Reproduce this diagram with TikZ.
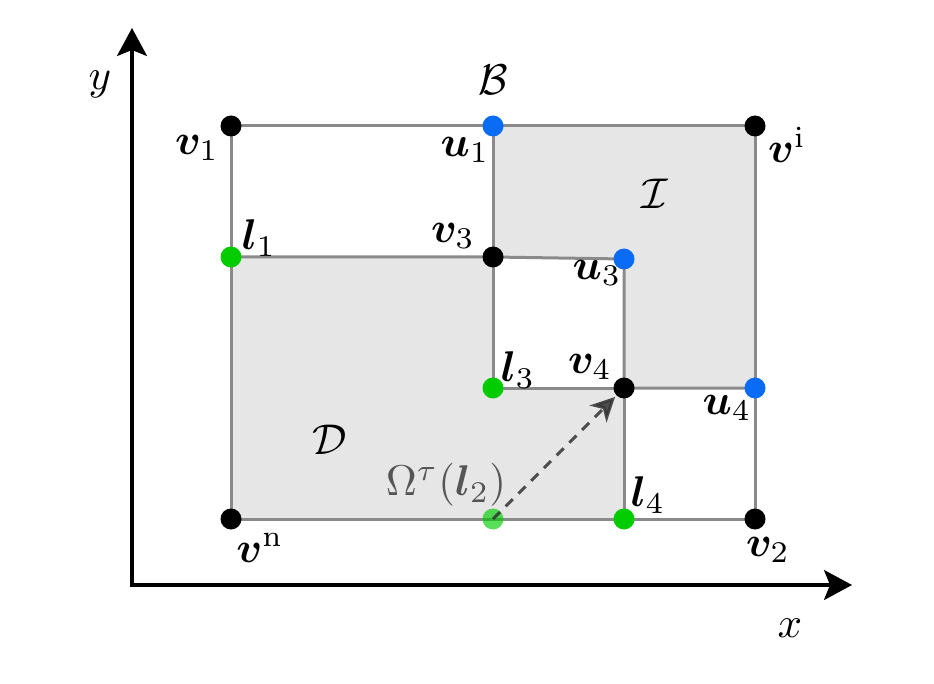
\documentclass[tikz,border=0pt]{standalone}
\usepackage{amsmath,bm}
\usetikzlibrary{arrows.meta}
\definecolor{edgegray}{HTML}{8A8A8A}
\definecolor{fillgray}{HTML}{E6E6E6}
\definecolor{dotgreen}{HTML}{00CC00}
\definecolor{dotblue}{HTML}{0A6CF5}
\definecolor{arrowgray}{HTML}{333333}
\definecolor{textgray}{HTML}{555555}
\begin{document}
\begin{tikzpicture}[x=1pt,y=-1pt,
  font=\fontsize{10}{12}\selectfont,
  edge/.style={draw=edgegray, line width=3pt},
  region/.style={fill=fillgray},
  dot/.style={circle, inner sep=0pt, minimum size=21pt},
  blackdot/.style={dot, fill=black},
  greendot/.style={dot, fill=dotgreen},
  bluedot/.style={dot, fill=dotblue},
  lab/.style={inner sep=0pt, scale=4.3},
  axis/.style={line width=3.2pt, -{Stealth[length=28pt,width=30pt,inset=6pt]}}]
\useasboundingbox (0,0) rectangle (934,684);

% coordinates
\coordinate (v1) at (231,126);
\coordinate (u1) at (493,126);
\coordinate (vi) at (755,126);
\coordinate (l1) at (231,257);
\coordinate (v3) at (493,257);
\coordinate (u3) at (624,259);
\coordinate (l3) at (493,388);
\coordinate (v4) at (624,388);
\coordinate (u4) at (755,388);
\coordinate (vn) at (231,519);
\coordinate (l2) at (493,519);
\coordinate (l4) at (624,519);
\coordinate (v2) at (755,519);
\coordinate (o) at (132,585);
\coordinate (ytip) at (132,28);
\coordinate (xtip) at (852,585);

% axes
\draw[axis] (o) -- (ytip);
\draw[axis] ([xshift=-1.6pt]o) -- (xtip);

% shaded regions
\fill[region] (l1) -- (v3) -- (l3) -- (v4) -- (l4) -- (vn) -- cycle;
\fill[region] (u1) -- (vi) -- (u4) -- (v4) -- (u3) -- (v3) -- cycle;

% edges
\draw[edge] (v1) -- (vi) -- (v2) -- (vn) -- cycle;
\draw[edge] (u1) -- (v3) -- (l3) -- (v4) -- (l4);
\draw[edge] (l1) -- (v3) -- (u3) -- (v4) -- (u4);

% dots
\node[blackdot] (nv1) at (v1) {};
\node[bluedot] (nu1) at (u1) {};
\node[blackdot] (nvi) at (vi) {};
\node[greendot] (nl1) at (l1) {};
\node[blackdot] (nv3) at (v3) {};
\node[bluedot] (nu3) at (u3) {};
\node[greendot] (nl3) at (l3) {};
\node[blackdot] (nv4) at (v4) {};
\node[bluedot] (nu4) at (u4) {};
\node[blackdot] (nvn) at (vn) {};
\node[greendot, opacity=0.65] (nl2) at (l2) {};
\node[greendot] (nl4) at (l4) {};
\node[blackdot] (nv2) at (v2) {};

% dashed arrow
\draw[draw=arrowgray, opacity=0.85, line width=3pt, dash pattern=on 10pt off 8pt,
  -{Stealth[length=24pt,width=24pt,inset=7pt,fill=arrowgray]}, shorten >=2pt]
  (l2) -- (nv4);

% labels
\node[lab] (ly) at (100,84) {$y$};
\node[lab] (lx) at (790,628) {$x$};
\node[lab] (lB) at (493,80) {$\mathcal{B}$};
\node[lab] (lI) at (655,194) {$\mathcal{I}$};
\node[lab] (lD) at (330,440) {$\mathcal{D}$};
\node[lab] (lv1) at (197,148) {$\bm{v}_1$};
\node[lab] (lu1) at (465,150) {$\bm{u}_1$};
\node[lab] (lvi) at (787,145) {$\bm{v}^{\mathrm{i}}$};
\node[lab] (ll1) at (259,238) {$\bm{l}_1$};
\node[lab] (lv3) at (453,236) {$\bm{v}_3$};
\node[lab] (lu3) at (597,273) {$\bm{u}_3$};
\node[lab] (ll3) at (518,370) {$\bm{l}_3$};
\node[lab] (lv4) at (590,367) {$\bm{v}_4$};
\node[lab] (lu4) at (727,408) {$\bm{u}_4$};
\node[lab, text=textgray] (lom) at (446,485) {$\Omega^{\tau}(\bm{l}_2)$};
\node[lab] (ll4) at (648,495) {$\bm{l}_4$};
\node[lab] (lvn) at (260,548) {$\bm{v}^{\mathrm{n}}$};
\node[lab] (lv2) at (768,550) {$\bm{v}_2$};
\end{tikzpicture}
\end{document}
